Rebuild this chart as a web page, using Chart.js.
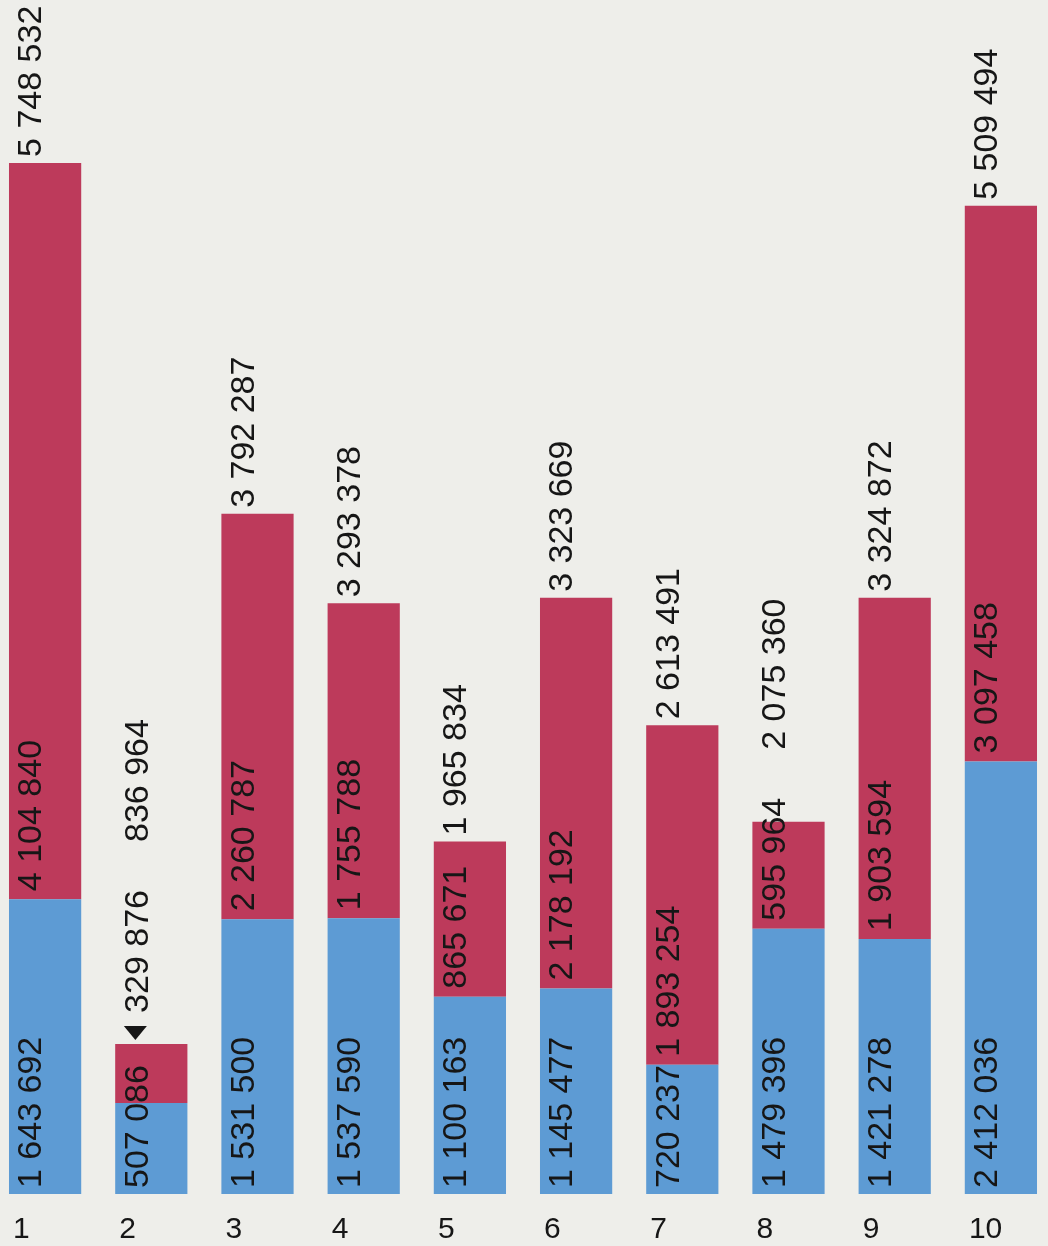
<!DOCTYPE html>
<html>
<head>
<meta charset="utf-8">
<script src="https://cdn.jsdelivr.net/npm/chart.js@4.4.1/dist/chart.umd.min.js"></script>
<style>
  html, body { margin: 0; padding: 0; background: #eeeeea; overflow: hidden; }
  #wrap { position: absolute; left: -8px; top: 0; width: 1062px; height: 1246px; }
</style>
</head>
<body>
<div id="wrap"><canvas id="stackChart"></canvas></div>
<script>
// ========= Data =========
const categories = ["1", "2", "3", "4", "5", "6", "7", "8", "9", "10"];
const blueValues = [1643692, 507086, 1531500, 1537590, 1100163, 1145477, 720237, 1479396, 1421278, 2412036];
const redValues = [4104840, 329876, 2260787, 1755788, 865671, 2178192, 1893254, 595964, 1903594, 3097458];
const totals = [5748532, 836964, 3792287, 3293378, 1965834, 3323669, 2613491, 2075360, 3324872, 5509494];
const yMax = 6657000;

const BLUE = "#5d9bd4";
const RED = "#bd3a5b";
const TEXT = "#161616";

// ========= Helper =========
function fmt(n) {
    return String(n).replace(/\B(?=(\d{3})+(?!\d))/g, " ");
}

// draws text reading bottom-to-top; x = left edge of glyphs, y = where the text starts
function drawUp(ctx, text, x, y, cap) {
    ctx.save();
    ctx.translate(x + cap, y);
    ctx.rotate(-Math.PI / 2);
    ctx.fillText(text, 0, 0);
    ctx.restore();
}

// ========= Value labels =========
const valueLabels = {
    id: "valueLabels",
    afterDatasetsDraw(chart) {
        const ctx = chart.ctx;
        const blueMeta = chart.getDatasetMeta(0);
        const redMeta = chart.getDatasetMeta(1);
        const size = 34;
        const cap = size * 0.716;
        ctx.save();
        ctx.font = size + 'px "Liberation Sans", Arial, sans-serif';
        ctx.fillStyle = TEXT;
        ctx.textAlign = "left";
        ctx.textBaseline = "alphabetic";

        categories.forEach((c, i) => {
            const b = blueMeta.data[i];
            const r = redMeta.data[i];
            const x = b.x - b.width / 2 + 8;

            // blue segment label
            drawUp(ctx, fmt(blueValues[i]), x, b.base - 6, cap);

            // red segment label
            const redText = fmt(redValues[i]);
            const redW = ctx.measureText(redText).width;
            const segH = r.base - r.y;
            let redEnd;
            if (segH < 80) {
                // too small: place above the bar with a pointer
                const start = r.y - 4;
                ctx.save();
                ctx.translate(x + cap, start);
                ctx.rotate(-Math.PI / 2);
                ctx.beginPath();
                ctx.moveTo(0, -cap / 2);
                ctx.lineTo(14, -cap / 2 - 11.5);
                ctx.lineTo(14, -cap / 2 + 11.5);
                ctx.closePath();
                ctx.fill();
                ctx.fillText(redText, 27, 0);
                ctx.restore();
                redEnd = start - 27 - redW;
            } else {
                const start = r.base - 8;
                drawUp(ctx, redText, x, start, cap);
                redEnd = start - redW;
            }

            // total label
            let totStart = r.y - 6;
            if (redEnd - 6 < totStart) totStart = Math.min(totStart, redEnd - 48);
            drawUp(ctx, fmt(totals[i]), x, totStart, cap);
        });
        ctx.restore();
    },
};

// ========= Stacked Bars =========
const chartCtx = document.getElementById("stackChart");
new Chart(chartCtx, {
    type: "bar",
    data: {
        labels: categories,
        datasets: [
            {
                label: "Blue",
                data: blueValues,
                backgroundColor: BLUE,
                categoryPercentage: 1,
                barPercentage: 0.68,
            },
            {
                label: "Red",
                data: redValues,
                backgroundColor: RED,
                categoryPercentage: 1,
                barPercentage: 0.68,
            },
        ],
    },
    options: {
        responsive: true,
        maintainAspectRatio: false,
        animation: false,
        layout: { padding: 0 },
        plugins: {
            legend: { display: false },
            tooltip: { enabled: false },
        },
        scales: {
            x: {
                stacked: true,
                grid: { display: false, drawTicks: false },
                border: { display: false },
                ticks: {
                    color: TEXT,
                    font: { family: '"Liberation Sans", Arial, sans-serif', size: 30 },
                    align: "start",
                    labelOffset: -32,
                    padding: 18,
                    maxRotation: 0,
                    autoSkip: false,
                },
                afterFit(scale) { scale.height = 52; },
            },
            y: {
                stacked: true,
                display: false,
                min: 0,
                max: yMax,
            },
        },
    },
    plugins: [valueLabels],
});
</script>
</body>
</html>
